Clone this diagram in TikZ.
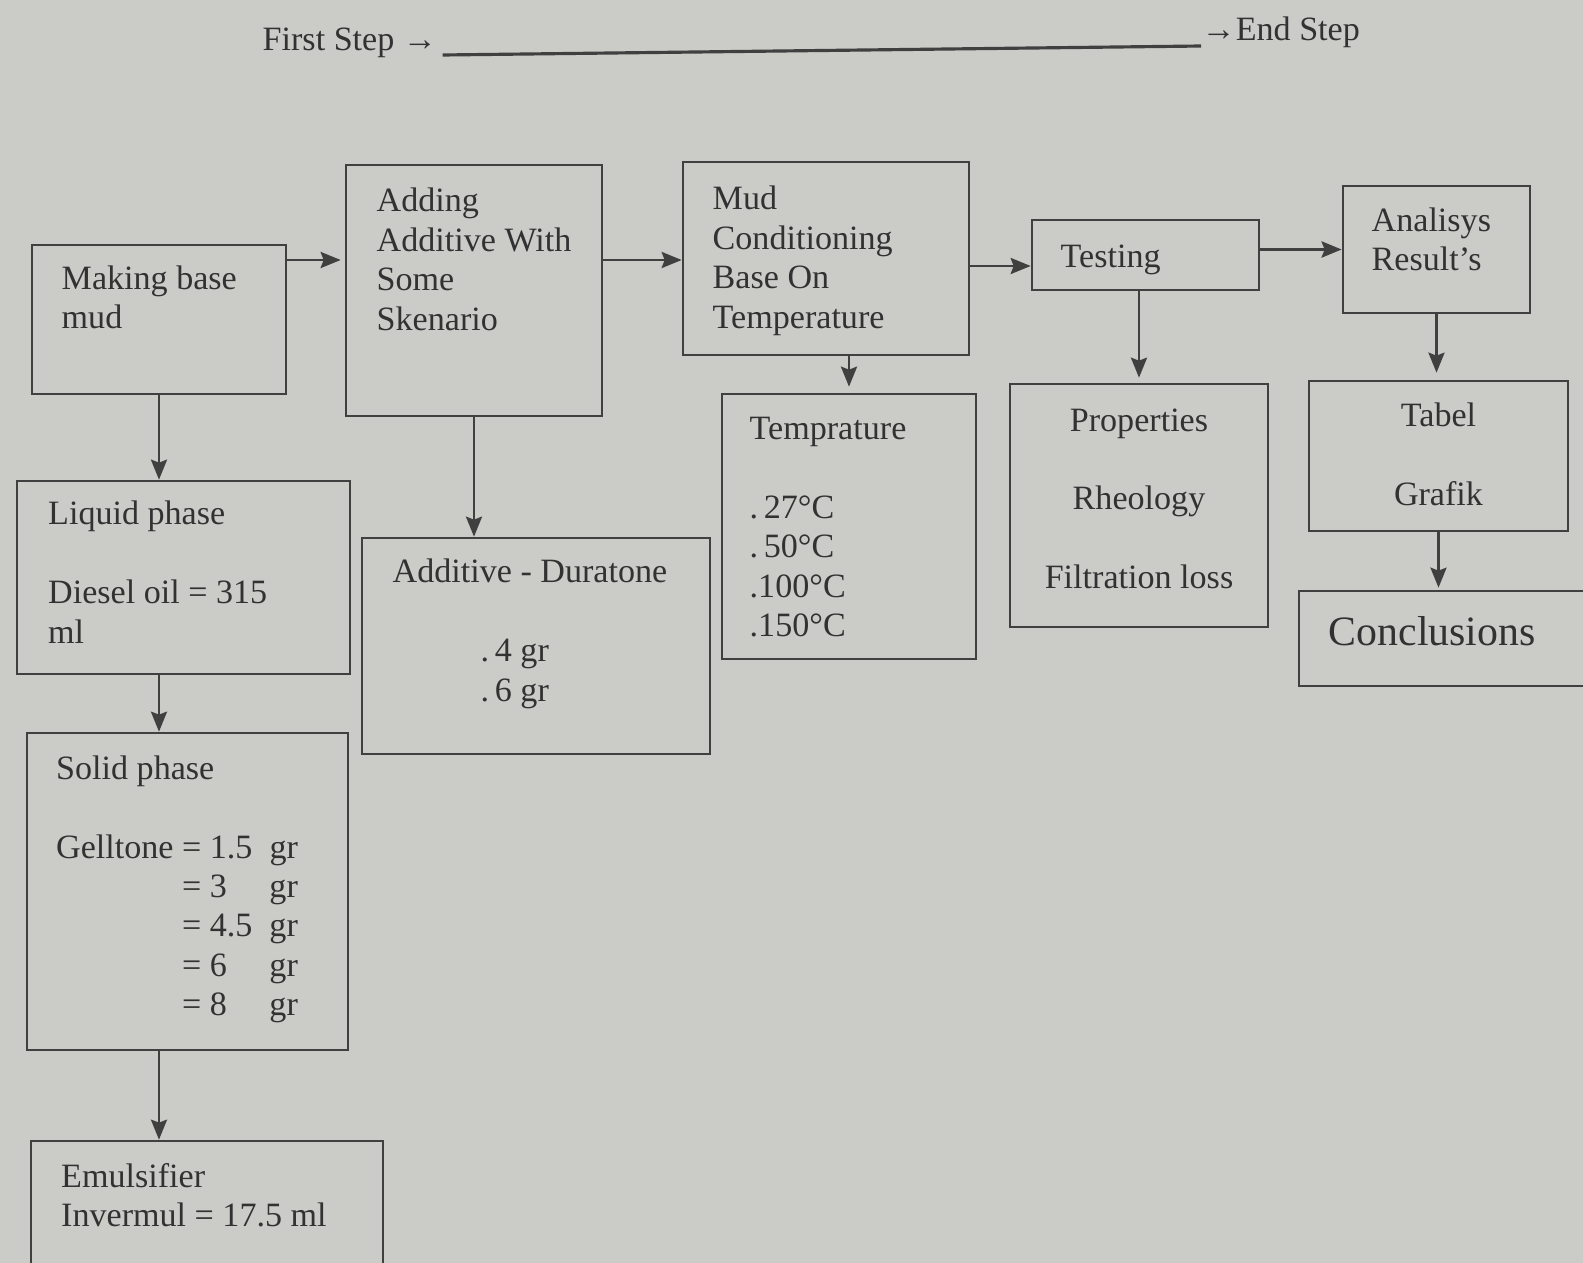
\documentclass[tikz,border=0pt]{standalone}
\usepackage{fontspec}
\setmainfont{Liberation Serif}
\usetikzlibrary{arrows.meta,positioning,calc}
\definecolor{papercolor}{RGB}{203,203,200}
\definecolor{inkcolor}{RGB}{50,50,50}
\definecolor{linecolor}{RGB}{64,64,64}

\begin{document}
\begin{tikzpicture}[x=0.1mm, y=-0.1mm,
                box/.style={rectangle, draw=linecolor, line width=0.75pt, inner sep=0pt},
                txt/.style={inner sep=0pt, text=inkcolor, align=left, font=\fontsize{9.7}{11.2}\selectfont},
                ctxt/.style={txt, align=center, anchor=base},
                arrow/.style={->, >={Stealth[length=2mm, width=1.6mm, inset=0.3mm]}, draw=linecolor, line width=0.8pt}]

                % Paper
                \fill[papercolor] (0,0) rectangle (1583,1263);
                \useasboundingbox (0,0) rectangle (1583,1263);

                % Heading
                \node[txt, anchor=base west] (fst) at (262,50) {First Step →};
                \node[txt, anchor=base west] (end) at (1201,40) {→End Step};
                \draw[linecolor, line width=0.9pt] ([shift={(5,5)}]fst.base east) -- ([shift={(0,6)}]end.base west);

                % Main row (text nodes sit on their last line)
                \node[box, minimum width=25.4mm, minimum height=14.9mm] (mbm) at (159,319.5) {};
                \node[box, minimum width=25.6mm, minimum height=25.1mm] (add) at (474,290.5) {};
                \node[box, minimum width=28.6mm, minimum height=19.3mm] (mud) at (826,258.5) {};
                \node[box, minimum width=22.7mm, minimum height=7.0mm] (tst) at (1145.5,255) {};
                \node[box, minimum width=18.7mm, minimum height=12.7mm] (ana) at (1436.5,249.5) {};

                \node[txt, anchor=base west] (mbm-t) at (61,328.5) {Making base\\mud};
                \node[txt, anchor=base west] (add-t) at (376,330) {Adding\\Additive With\\Some\\Skenario};
                \node[txt, anchor=base west] (mud-t) at (712,328) {Mud\\Conditioning\\Base On\\Temperature};
                \node[txt, anchor=base west] (tst-t) at (1060,267) {Testing};
                \node[txt, anchor=base west] (ana-t) at (1371,270.5) {Analisys\\Result’s};

                % Left column
                \node[box, minimum width=33.3mm, minimum height=19.3mm] (liq) at (183.5,577.5) {};
                \node[box, minimum width=32.1mm, minimum height=31.7mm] (sol) at (187.5,891.5) {};
                \node[box, minimum width=35.2mm, minimum height=14.9mm] (emu) at (207,1215.5) {};

                \node[txt, anchor=base west] (liq-t) at (47.5,643) {Liquid phase\\[11.2pt]Diesel oil = 315\\ml};
                \node[txt, anchor=base west] (sol-t) at (55.5,858) {Solid phase\\[11.2pt]%
                    \begin{tabular}[t]{@{}l@{ }l@{\ \ }l@{}}
                    Gelltone & = 1.5 & gr\\
                             & = 3   & gr\\
                             & = 4.5 & gr\\
                             & = 6   & gr\\
                             & = 8   & gr
                    \end{tabular}};
                \node[txt, anchor=base west] (emu-t) at (60.5,1226.5) {Emulsifier\\Invermul = 17.5 ml};

                % Lower boxes
                \node[box, minimum width=34.8mm, minimum height=21.6mm] (dur) at (536,646) {};
                \node[box, minimum width=25.4mm, minimum height=26.5mm] (tmp) at (849,526.5) {};
                \node[box, minimum width=25.8mm, minimum height=24.3mm] (prp) at (1139,505.5) {};
                \node[box, minimum width=25.9mm, minimum height=15.0mm] (tab) at (1438.5,456) {};
                \node[box, minimum width=30.1mm, minimum height=9.5mm] (con) at (1449.5,638.5) {};

                \node[txt, anchor=base west] (dur-t) at (392,701) {Additive - Duratone\\[11.2pt]\hspace*{8.8mm}.\,4 gr\\\hspace*{8.8mm}.\,6 gr};
                \node[txt, anchor=base west] (tmp-t) at (749,636.5) {Temprature\\[11.2pt].\,27°C\\.\,50°C\\.100°C\\.150°C};
                \node[ctxt] (prp-t) at (1139,588.5) {Properties\\[11.2pt]Rheology\\[11.2pt]Filtration loss};
                \node[ctxt] (tab-t) at (1438.5,505) {Tabel\\[11.2pt]Grafik};
                \node[txt, anchor=base west, font=\fontsize{11.9}{14}\selectfont] (con-t) at (1328,645) {Conclusions};

                % Connections
                \coordinate (r1) at (0,260);
                \coordinate (r2) at (0,266);
                \draw[arrow, shorten >=0.4mm] (mbm.east |- r1) -- (add.west |- r1);
                \draw[arrow] (add.east |- r1) -- (mud.west |- r1);
                \draw[arrow] (mud.east |- r2) -- (tst.west |- r2);
                \draw[arrow, line width=1pt] (tst.east |- ana.west) -- (ana.west);

                \draw[arrow] (mbm.south) -- (mbm.south |- liq.north);
                \draw[arrow] (mbm.south |- liq.south) -- (mbm.south |- sol.north);
                \draw[arrow] (mbm.south |- sol.south) -- (mbm.south |- emu.north);
                \draw[arrow] (add.south) -- (add.south |- dur.north);
                \draw[arrow, shorten >=0.6mm] (tmp.north |- mud.south) -- (tmp.north);
                \draw[arrow, shorten >=0.5mm] (prp.north |- tst.south) -- (prp.north);
                \draw[arrow, shorten >=0.7mm] (ana.south) -- (ana.south |- tab.north);
                \draw[arrow, shorten >=0.2mm] (tab.south) -- (tab.south |- con.north);

            \end{tikzpicture}
\end{document}
